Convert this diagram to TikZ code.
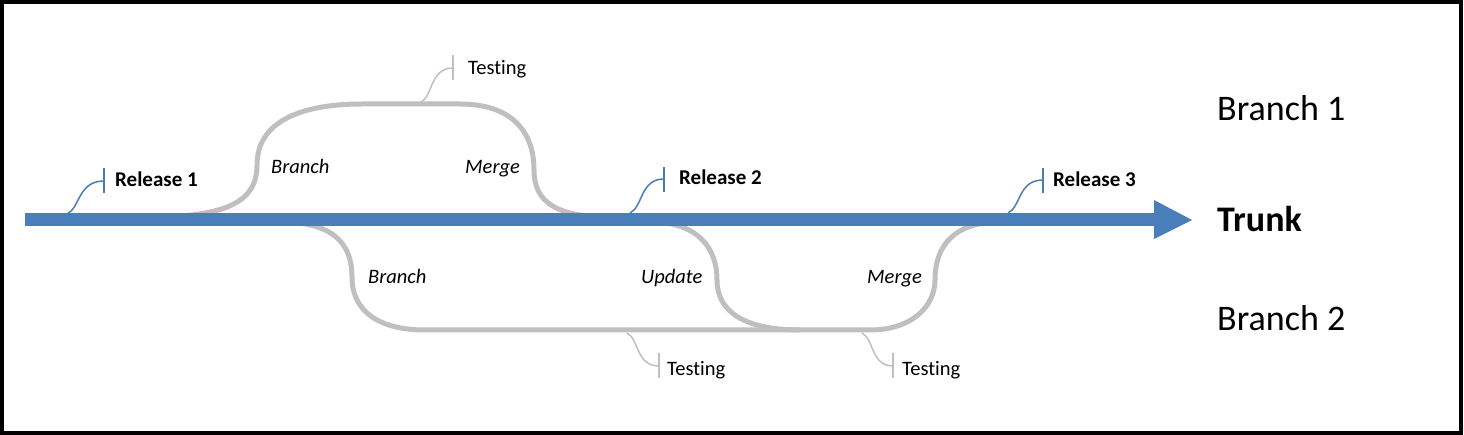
\documentclass[tikz,border=0pt]{standalone}
\usepackage{fontspec}
\setmainfont[Ligatures=NoCommon]{Carlito}
\definecolor{trunkblue}{HTML}{4A7EBB}
\definecolor{branchgray}{HTML}{BFBFBF}
\begin{document}
\begin{tikzpicture}[x=1pt,y=-1pt,
  branchline/.style={draw=branchgray,line width=5pt},
  bluecall/.style={draw=trunkblue,line width=1.5pt},
  graycall/.style={draw=branchgray,line width=1.5pt},
  lbl/.style={anchor=base west,inner sep=0pt,font=\fontsize{20.5}{24}\selectfont},
  rel/.style={lbl,font=\fontsize{21}{24}\selectfont\bfseries},
  act/.style={lbl,font=\fontsize{20.5}{24}\selectfont\itshape},
  big/.style={anchor=base west,inner sep=0pt,font=\fontsize{36}{40}\selectfont}]
\useasboundingbox (0,0) rectangle (1464,435);
\draw[line width=4pt] (2,2) rectangle (1461,433);

% branch 1
\draw[branchline] (150,217) .. controls (230,217) and (257,200) .. (257,165)
  .. controls (257,122) and (300,104) .. (362,104) -- (460,104)
  .. controls (510,104) and (534,130) .. (534,170)
  .. controls (534,202) and (556,217) .. (610,217);
% branch 2
\draw[branchline] (280,222) .. controls (335,222) and (352,245) .. (352,277)
  .. controls (352,312) and (380,330) .. (425,330) -- (870,330)
  .. controls (912,330) and (935,306) .. (935,280)
  .. controls (935,245) and (955,222) .. (1000,222);
% update
\draw[branchline] (650,222) .. controls (700,222) and (717,250) .. (717,280)
  .. controls (717,312) and (745,330) .. (800,330);

% trunk
\coordinate (t0) at (25,220);
\coordinate (t1) at (1156,220);
\draw[trunkblue,line width=13pt] (t0) -- (t1);
\fill[trunkblue] (1154,200) -- (1192,220) -- (1154,239) -- cycle;

% release callouts
\coordinate (r1a) at (67,214); \coordinate (r1b) at (104,181);
\draw[bluecall] (r1a) .. controls (80,208) and (78,181) .. (r1b);
\draw[bluecall] (104,168) -- (104,193);
\node[rel] (rel1) at (115,187) {Release 1};

\coordinate (r2a) at (630,213); \coordinate (r2b) at (664,179);
\draw[bluecall] (r2a) .. controls (643,207) and (640,179) .. (r2b);
\draw[bluecall] (664,167) -- (664,192);
\node[rel] (rel2) at (679,185) {Release 2};

\coordinate (r3a) at (1008,213); \coordinate (r3b) at (1043,180);
\draw[bluecall] (r3a) .. controls (1021,207) and (1018,180) .. (r3b);
\draw[bluecall] (1043,168) -- (1043,193);
\node[rel] (rel3) at (1053,187) {Release 3};

% testing callouts
\coordinate (ta) at (421,102); \coordinate (tb) at (453,68);
\draw[graycall] (ta) .. controls (433,96) and (430,68) .. (tb);
\draw[graycall] (453,55) -- (453,80);
\node[lbl] (test1) at (468,75) {Testing};

\coordinate (tc) at (627,333); \coordinate (td) at (659,366);
\draw[graycall] (tc) .. controls (639,339) and (636,366) .. (td);
\draw[graycall] (659,353) -- (659,378);
\node[lbl] (test2) at (667,375) {Testing};

\coordinate (te) at (862,333); \coordinate (tf) at (893,366);
\draw[graycall] (te) .. controls (874,339) and (871,366) .. (tf);
\draw[graycall] (893,353) -- (893,378);
\node[lbl] (test3) at (902,375) {Testing};

% action labels
\node[act] (br1) at (271,174) {Branch};
\node[act] (mg1) at (465,174) {Merge};
\node[act] (br2) at (368,284) {Branch};
\node[act] (up2) at (641,284) {Update};
\node[act] (mg2) at (867,284) {Merge};

% lane labels
\node[big] (lb1) at (1217,121) {Branch 1};
\node[big,font=\fontsize{36}{40}\selectfont\bfseries] (lt) at (1217,232) {Trunk};
\node[big] (lb2) at (1217,331) {Branch 2};
\end{tikzpicture}
\end{document}
